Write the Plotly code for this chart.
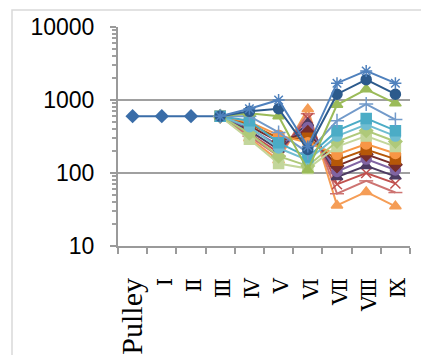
import plotly.graph_objects as go

categories = ["Pulley", "Ⅰ", "Ⅱ", "Ⅲ", "Ⅳ", "Ⅴ", "Ⅵ", "Ⅶ", "Ⅷ", "Ⅸ"]
y_tick_values = [10, 100, 1000, 10000]
y_tick_labels = ["10", "100", "1000", "10000"]

base = [600, 600, 600, 600, None, None, None, None, None, None]
# cool-coloured series (drawn last, on top)
s01 = [None, None, None, 600, 760, 1000, 230, 1700, 2500, 1700]
s02 = [None, None, None, 600, 700, 760, 210, 1200, 1900, 1200]
s03 = [None, None, None, 600, 660, 600, 110, 860, 1400, 900]
s04 = [None, None, None, 600, 600, 360, 190, 520, 880, 540]
s05 = [None, None, None, 600, 520, 260, 165, 380, 560, 380]
s06 = [None, None, None, 600, 430, 220, 150, 320, 460, 320]
s07 = [None, None, None, 600, 350, 170, 125, 270, 380, 270]
s08 = [None, None, None, 600, 290, 135, 115, 230, 320, 230]
# warm-coloured series (drawn first)
s09 = [None, None, None, 600, 500, 330, 260, 180, 250, 185]
s10 = [None, None, None, 600, 470, 300, 300, 150, 210, 155]
s11 = [None, None, None, 600, 440, 270, 360, 125, 180, 130]
s12 = [None, None, None, 600, 410, 240, 420, 105, 155, 110]
s13 = [None, None, None, 600, 380, 210, 480, 88, 125, 90]
s14 = [None, None, None, 600, 350, 190, 560, 70, 100, 72]
s15 = [None, None, None, 600, 320, 170, 650, 52, 78, 54]
s16 = [None, None, None, 600, 300, 150, 750, 36, 55, 35]

series = [s16, s15, s14, s13, s12, s11, s10, s09, s08, s07, s06, s05, s04, s03, s02, s01]
colors = ["#F59D56", "#CD7371", "#C0504D", "#4D3B62", "#8064A2", "#772C2A",
          "#B65708", "#F79646", "#C3D69B", "#AFC97A", "#6FBDD1", "#4BACC6",
          "#729ACA", "#9BBB59", "#2C5A8C", "#4F81BD"]
symbols = ["triangle-up", "line-ew-open", "x-thin-open", "triangle-up", "circle", "diamond",
           "square", "circle", "square", "diamond", "circle", "square",
           "cross-thin-open", "triangle-up", "circle", "asterisk-open"]

# page is shown with an 8px body margin, so the figure is 8px smaller and shifted
OFF = 8
W, H = 429 - OFF, 355 - OFF
L, R, T, B = 118 - OFF, 410 - OFF, 27 - OFF, 246 - OFF

fig = go.Figure()
fig.add_trace(go.Scatter(
    x=categories, y=base, mode="lines+markers",
    line=dict(color="#3A6DA8", width=2),
    marker=dict(symbol="diamond", size=11, color="#3A6DA8"),
    showlegend=False, hoverinfo="skip"))

for vals, c, sym in zip(series, colors, symbols):
    fig.add_trace(go.Scatter(
        x=categories, y=vals, mode="lines+markers",
        line=dict(color=c, width=2),
        marker=dict(symbol=sym, size=10, color=c, line=dict(color=c, width=1.5)),
        showlegend=False, hoverinfo="skip"))

def px_x(p):
    return (p - L) / (R - L)

def px_y(p):
    return (B - p) / (B - T)

fig.add_shape(type="rect", xref="paper", yref="paper",
              x0=px_x(12 - OFF), x1=px_x(445), y0=px_y(370), y1=px_y(10 - OFF),
              line=dict(color="#D9D9D9", width=1.5), fillcolor="rgba(0,0,0,0)",
              layer="below")

x_tick_text = ["Pulley"] + \
    ["<span style='font-family:DejaVu Serif;font-size:21px'>" + c + "</span>" for c in categories[1:]]

fig.update_layout(
    width=W, height=H,
    margin=dict(l=L, r=W - R, t=T, b=H - B, pad=0, autoexpand=False),
    paper_bgcolor="white", plot_bgcolor="white",
    font=dict(family="Liberation Sans", color="#000000"),
    xaxis=dict(
        type="category", range=[-0.5, 9.5], automargin=False,
        tickvals=categories, ticktext=x_tick_text,
        tickangle=-90, tickfont=dict(size=30, family="Liberation Serif"),
        showgrid=False, zeroline=False,
        showline=True, linecolor="#9A9A9A", linewidth=2,
        ticks="outside", ticklen=6, tickcolor="#9A9A9A", tickwidth=1.5,
        tickson="boundaries", ticklabelstandoff=18,
    ),
    yaxis=dict(
        type="log", range=[1, 4], automargin=False,
        tickvals=y_tick_values, ticktext=y_tick_labels,
        tickfont=dict(size=23, family="Liberation Sans"),
        showgrid=True, gridcolor="#A0A0A0", gridwidth=2,
        zeroline=False,
        showline=True, linecolor="#9A9A9A", linewidth=2,
        ticks="outside", ticklen=6, tickcolor="#9A9A9A", tickwidth=1.5,
        minor=dict(ticks="outside", ticklen=4, tickcolor="#A0A0A0", showgrid=False,
                   tickvals=[20, 30, 40, 50, 60, 70, 80, 90,
                             200, 300, 400, 500, 600, 700, 800, 900,
                             2000, 3000, 4000, 5000, 6000, 7000, 8000, 9000]),
        ticklabelstandoff=11,
    ),
)

fig.write_html("out.html")
